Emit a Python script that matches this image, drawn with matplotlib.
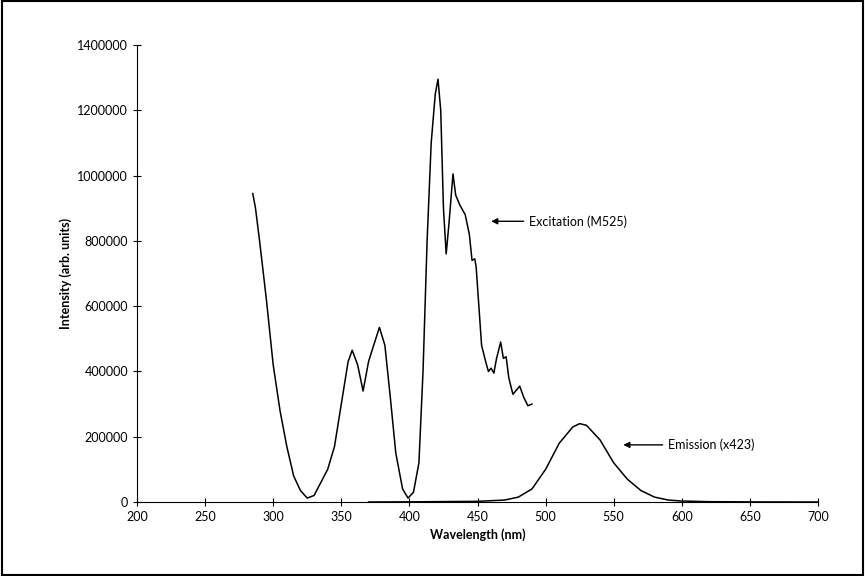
import matplotlib
matplotlib.use("Agg")
import matplotlib.pyplot as plt
from matplotlib.patches import Rectangle
from matplotlib.ticker import StrMethodFormatter
import numpy as np

ex_wl = [285,287,290,295,300,305,310,315,320,325,330,335,340,345,350,355,358,362,366,370,373,378,382,386,390,395,399,403,407,410,413,416,419,421,423,425,427,429,432,434,437,441,444,446,448,449,451,453,456,458,460,462,464,467,469,471,473,476,479,481,484,487,490]
ex_int = [945000,900000,800000,620000,420000,280000,170000,80000,35000,12000,20000,60000,100000,170000,300000,430000,465000,420000,340000,430000,470000,535000,480000,320000,150000,40000,12000,30000,120000,400000,800000,1100000,1250000,1295000,1200000,900000,760000,850000,1005000,940000,910000,880000,820000,740000,745000,720000,600000,480000,430000,400000,410000,395000,440000,490000,440000,445000,380000,330000,345000,355000,320000,295000,300000]
em_wl = [370,400,450,470,480,490,500,510,520,525,530,540,550,560,570,580,590,600,620,650,700]
em_int = [0,500,2000,6000,15000,40000,100000,180000,230000,240000,235000,190000,120000,70000,35000,15000,6000,3000,1000,300,0]

plt.rcParams['font.family'] = ['Lato', 'DejaVu Sans']
fig = plt.figure(figsize=(8.65, 5.76), dpi=100)
ax = fig.add_axes([137/865, 1-502/576, (818-137)/865, (502-45)/576])
ax.plot(ex_wl, ex_int, color='black', lw=1.1)
ax.plot(em_wl, em_int, color='black', lw=1.1)
ax.set_xlim(200, 700)
ax.set_ylim(0, 1400000)
ax.set_xticks(range(200, 701, 50))
ax.set_yticks(range(0, 1400001, 200000))
ax.yaxis.set_major_formatter(StrMethodFormatter('{x:.0f}'))
ax.tick_params(direction='inout', length=6, labelsize=9)
for s in ['top', 'right']:
    ax.spines[s].set_visible(False)
ax.set_xlabel('Wavelength (nm)', fontweight='bold', fontsize=9)
ax.set_ylabel('Intensity (arb. units)', fontweight='bold', fontsize=9)
ax.annotate('Excitation (M525)', xy=(458, 860000), xytext=(488, 860000), va='center', fontsize=9,
            arrowprops=dict(arrowstyle='-|>', color='black', lw=1))
ax.annotate('Emission (x423)', xy=(555, 175000), xytext=(590, 175000), va='center', fontsize=9,
            arrowprops=dict(arrowstyle='-|>', color='black', lw=1))
fig.patches.append(Rectangle((0.002, 0.002), 0.996, 0.996, transform=fig.transFigure, fill=False, ec='black', lw=1.5))
fig.savefig('out.png', dpi=100)
